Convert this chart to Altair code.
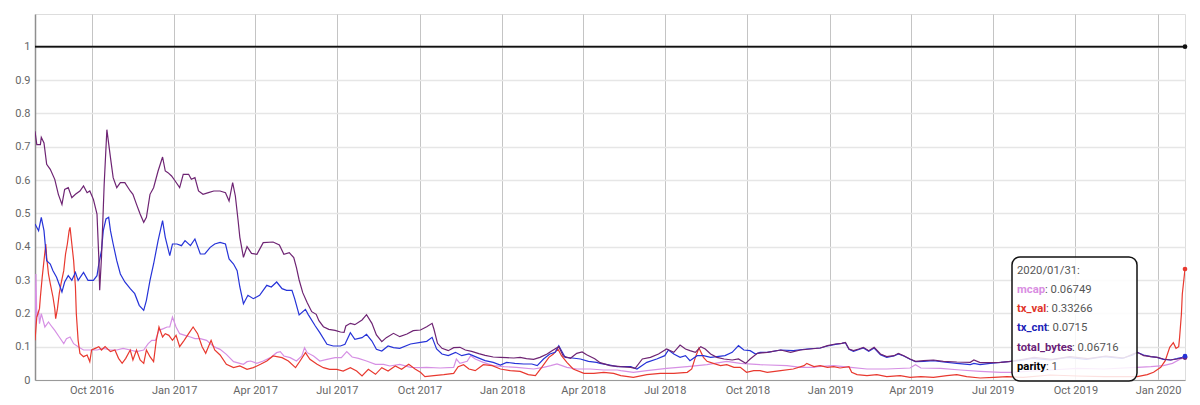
import altair as alt
import pandas as pd

START = "2016-07-30"  # first day of the data

# (days since START, value)
total_bytes_pts = [
    (0, 0.746), (2, 0.706), (6, 0.706), (7, 0.728), (10, 0.711), (13, 0.647), (17, 0.632),
    (22, 0.602), (26, 0.557), (30, 0.527), (33, 0.572), (37, 0.577), (41, 0.547), (45, 0.557),
    (50, 0.567), (54, 0.582), (58, 0.562), (61, 0.567), (65, 0.542), (69, 0.498), (71, 0.368),
    (72, 0.269), (74, 0.368), (77, 0.587), (80, 0.751), (84, 0.667), (87, 0.607), (91, 0.577),
    (95, 0.592), (100, 0.592), (106, 0.567), (109, 0.557), (113, 0.527), (117, 0.498),
    (121, 0.473), (124, 0.488), (128, 0.557), (132, 0.577), (137, 0.627), (142, 0.669),
    (145, 0.627), (148, 0.622), (152, 0.612), (156, 0.597), (161, 0.577), (165, 0.617),
    (171, 0.617), (174, 0.602), (178, 0.607), (182, 0.567), (187, 0.557), (193, 0.562),
    (199, 0.567), (206, 0.567), (212, 0.562), (216, 0.537), (220, 0.592), (223, 0.552),
    (226, 0.48), (228, 0.428), (232, 0.368), (236, 0.40), (241, 0.38), (247, 0.377),
    (254, 0.412), (265, 0.414), (272, 0.405), (277, 0.377), (283, 0.382), (288, 0.367),
    (291, 0.337), (294, 0.30), (298, 0.262), (303, 0.232), (308, 0.205), (313, 0.197),
    (316, 0.178), (321, 0.160), (327, 0.152), (334, 0.149), (340, 0.144), (344, 0.143),
    (346, 0.162), (351, 0.170), (356, 0.166), (364, 0.180), (369, 0.196), (375, 0.170),
    (380, 0.135), (386, 0.115), (391, 0.127), (399, 0.140), (406, 0.130), (414, 0.138),
    (421, 0.148), (429, 0.150), (436, 0.160), (442, 0.170), (444, 0.153), (448, 0.110),
    (453, 0.095), (460, 0.088), (466, 0.097), (473, 0.098), (479, 0.090), (486, 0.086),
    (494, 0.079), (501, 0.074), (510, 0.069), (518, 0.068), (525, 0.067), (533, 0.066),
    (540, 0.068), (547, 0.064), (555, 0.062), (562, 0.068), (570, 0.078), (575, 0.087),
    (583, 0.100), (588, 0.072), (596, 0.065), (603, 0.080), (609, 0.084), (614, 0.076),
    (623, 0.064), (629, 0.052), (640, 0.043), (652, 0.040), (663, 0.038), (668, 0.035),
    (676, 0.063), (685, 0.068), (694, 0.078), (703, 0.093), (711, 0.083), (718, 0.105),
    (724, 0.093), (729, 0.088), (735, 0.083), (741, 0.100), (746, 0.093), (752, 0.078),
    (759, 0.068), (767, 0.063), (776, 0.060), (783, 0.063), (791, 0.050), (796, 0.063),
    (804, 0.080), (815, 0.083), (830, 0.090), (841, 0.083), (852, 0.090), (863, 0.093),
    (874, 0.096), (882, 0.103), (891, 0.108), (898, 0.110), (902, 0.113), (906, 0.093),
    (911, 0.088), (917, 0.093), (922, 0.098), (928, 0.088), (934, 0.098), (941, 0.078),
    (948, 0.070), (956, 0.073), (961, 0.080), (967, 0.073), (974, 0.063), (980, 0.056),
    (989, 0.058), (1000, 0.060), (1011, 0.056), (1026, 0.054), (1041, 0.053), (1045, 0.060),
    (1052, 0.052), (1063, 0.052), (1075, 0.053), (1086, 0.056), (1095, 0.060), (1112, 0.068),
    (1132, 0.062), (1152, 0.070), (1172, 0.064), (1192, 0.072), (1212, 0.066), (1222, 0.078),
    (1227, 0.083), (1234, 0.073), (1242, 0.070), (1249, 0.068), (1256, 0.063), (1264, 0.060),
    (1271, 0.063), (1277, 0.066), (1280, 0.06716),
]

tx_cnt_pts = [
    (0, 0.468), (4, 0.448), (7, 0.488), (10, 0.448), (13, 0.358), (17, 0.348), (20, 0.328),
    (24, 0.308), (28, 0.279), (30, 0.264), (33, 0.294), (37, 0.313), (41, 0.299), (45, 0.323),
    (48, 0.299), (54, 0.323), (59, 0.299), (65, 0.299), (69, 0.313), (71, 0.348), (74, 0.388),
    (76, 0.448), (79, 0.483), (82, 0.488), (84, 0.448), (87, 0.408), (91, 0.358), (95, 0.318),
    (100, 0.294), (106, 0.274), (111, 0.259), (116, 0.224), (121, 0.209), (124, 0.239),
    (128, 0.299), (132, 0.348), (137, 0.418), (142, 0.478), (145, 0.428), (150, 0.373),
    (153, 0.408), (158, 0.408), (163, 0.403), (167, 0.418), (173, 0.403), (178, 0.423),
    (184, 0.378), (189, 0.378), (195, 0.398), (200, 0.408), (206, 0.413), (212, 0.408),
    (216, 0.363), (221, 0.348), (225, 0.328), (228, 0.279), (232, 0.229), (237, 0.254),
    (243, 0.244), (250, 0.254), (258, 0.284), (263, 0.279), (269, 0.294), (275, 0.274),
    (280, 0.269), (286, 0.269), (289, 0.244), (294, 0.195), (301, 0.212), (304, 0.197),
    (312, 0.162), (317, 0.142), (325, 0.107), (332, 0.102), (340, 0.102), (345, 0.107),
    (351, 0.142), (356, 0.122), (364, 0.127), (369, 0.137), (375, 0.117), (380, 0.092),
    (386, 0.087), (393, 0.102), (399, 0.097), (406, 0.095), (418, 0.108), (429, 0.113),
    (436, 0.116), (442, 0.128), (447, 0.093), (453, 0.078), (460, 0.073), (468, 0.083),
    (475, 0.073), (483, 0.078), (492, 0.068), (501, 0.058), (510, 0.053), (518, 0.045),
    (525, 0.053), (534, 0.050), (544, 0.048), (553, 0.048), (559, 0.043), (566, 0.063),
    (573, 0.078), (579, 0.083), (583, 0.103), (586, 0.088), (590, 0.068), (598, 0.066),
    (607, 0.063), (616, 0.056), (625, 0.053), (629, 0.050), (637, 0.046), (648, 0.040),
    (663, 0.040), (670, 0.033), (681, 0.053), (692, 0.063), (701, 0.073), (705, 0.090),
    (711, 0.078), (718, 0.068), (724, 0.073), (729, 0.058), (737, 0.073), (744, 0.073),
    (752, 0.068), (759, 0.070), (768, 0.073), (776, 0.083), (783, 0.103), (789, 0.090),
    (796, 0.088), (802, 0.078), (807, 0.083), (815, 0.083), (830, 0.090), (844, 0.088),
    (859, 0.093), (874, 0.096), (882, 0.102), (891, 0.107), (898, 0.110), (902, 0.112),
    (906, 0.092), (911, 0.086), (917, 0.092), (922, 0.096), (928, 0.086), (934, 0.096),
    (941, 0.076), (948, 0.068), (956, 0.072), (961, 0.078), (967, 0.072), (974, 0.062),
    (980, 0.055), (989, 0.056), (1000, 0.058), (1011, 0.054), (1026, 0.050), (1041, 0.046),
    (1045, 0.050), (1052, 0.046), (1063, 0.050), (1075, 0.053), (1086, 0.056), (1095, 0.058),
    (1110, 0.065), (1130, 0.060), (1150, 0.068), (1170, 0.062), (1190, 0.070), (1210, 0.065),
    (1222, 0.075), (1227, 0.083), (1234, 0.075), (1242, 0.070), (1249, 0.068), (1256, 0.062),
    (1264, 0.060), (1271, 0.064), (1277, 0.068), (1280, 0.0715),
]

tx_val_pts = [
    (0, 0.119), (2, 0.189), (5, 0.214), (6, 0.249), (8, 0.308), (10, 0.358), (12, 0.408),
    (13, 0.368), (15, 0.318), (17, 0.289), (20, 0.249), (22, 0.214), (23, 0.184), (25, 0.214),
    (27, 0.259), (29, 0.289), (32, 0.328), (34, 0.378), (36, 0.408), (38, 0.448), (39, 0.458),
    (41, 0.408), (43, 0.358), (45, 0.279), (46, 0.199), (48, 0.119), (50, 0.080), (54, 0.070),
    (58, 0.075), (61, 0.055), (63, 0.090), (67, 0.095), (71, 0.100), (74, 0.090), (78, 0.100),
    (84, 0.085), (89, 0.090), (93, 0.065), (97, 0.050), (101, 0.065), (106, 0.090), (109, 0.060),
    (113, 0.090), (117, 0.060), (121, 0.050), (124, 0.090), (128, 0.070), (132, 0.055),
    (135, 0.119), (138, 0.159), (142, 0.129), (145, 0.139), (149, 0.134), (153, 0.119),
    (157, 0.134), (161, 0.100), (166, 0.119), (171, 0.139), (176, 0.159), (181, 0.139),
    (186, 0.100), (190, 0.080), (196, 0.119), (200, 0.090), (206, 0.075), (213, 0.047),
    (221, 0.037), (228, 0.042), (236, 0.032), (243, 0.037), (251, 0.047), (258, 0.057),
    (265, 0.072), (275, 0.067), (282, 0.057), (290, 0.037), (295, 0.057), (301, 0.082),
    (306, 0.062), (314, 0.047), (321, 0.037), (328, 0.032), (336, 0.032), (343, 0.027),
    (351, 0.037), (358, 0.027), (364, 0.012), (371, 0.032), (379, 0.017), (386, 0.037),
    (393, 0.027), (401, 0.042), (408, 0.032), (416, 0.047), (423, 0.033), (429, 0.023),
    (434, 0.010), (444, 0.013), (455, 0.016), (466, 0.020), (471, 0.040), (477, 0.046),
    (483, 0.033), (490, 0.028), (499, 0.046), (509, 0.043), (518, 0.033), (529, 0.028),
    (540, 0.026), (549, 0.016), (557, 0.013), (564, 0.038), (572, 0.068), (577, 0.078),
    (582, 0.093), (586, 0.073), (592, 0.053), (599, 0.033), (611, 0.020), (622, 0.020),
    (633, 0.023), (644, 0.020), (652, 0.013), (666, 0.008), (681, 0.016), (696, 0.020),
    (711, 0.020), (726, 0.023), (731, 0.033), (735, 0.068), (739, 0.096), (744, 0.068),
    (748, 0.056), (755, 0.050), (763, 0.043), (770, 0.046), (778, 0.038), (785, 0.038),
    (792, 0.023), (800, 0.028), (807, 0.028), (815, 0.023), (830, 0.028), (844, 0.033),
    (856, 0.043), (859, 0.050), (867, 0.040), (874, 0.043), (882, 0.038), (889, 0.040),
    (896, 0.036), (906, 0.040), (909, 0.023), (915, 0.016), (926, 0.013), (937, 0.016),
    (948, 0.010), (963, 0.013), (974, 0.008), (986, 0.010), (1000, 0.008), (1015, 0.013),
    (1026, 0.016), (1037, 0.010), (1052, 0.006), (1067, 0.008), (1082, 0.010), (1100, 0.008),
    (1130, 0.015), (1160, 0.012), (1190, 0.010), (1220, 0.010), (1227, 0.010), (1238, 0.016),
    (1245, 0.023), (1253, 0.038), (1258, 0.058), (1263, 0.098), (1267, 0.112), (1270, 0.095),
    (1273, 0.100), (1274, 0.128), (1276, 0.198), (1277, 0.258), (1280, 0.33266),
]

mcap_pts = [
    (0, 0.149), (1, 0.318), (2, 0.189), (4, 0.209), (5, 0.169), (7, 0.199), (11, 0.159),
    (15, 0.174), (19, 0.159), (22, 0.149), (27, 0.129), (32, 0.109), (35, 0.124), (39, 0.129),
    (43, 0.109), (48, 0.100), (54, 0.090), (61, 0.090), (69, 0.090), (76, 0.095), (84, 0.090),
    (91, 0.090), (98, 0.095), (106, 0.090), (113, 0.085), (121, 0.090), (126, 0.109),
    (130, 0.119), (134, 0.119), (138, 0.149), (143, 0.154), (147, 0.159), (150, 0.159),
    (153, 0.189), (157, 0.159), (161, 0.139), (167, 0.134), (173, 0.129), (178, 0.124),
    (184, 0.124), (191, 0.119), (199, 0.100), (206, 0.092), (213, 0.077), (221, 0.055),
    (228, 0.050), (232, 0.047), (236, 0.055), (240, 0.057), (247, 0.050), (254, 0.057),
    (262, 0.067), (269, 0.082), (273, 0.085), (277, 0.072), (284, 0.067), (291, 0.057),
    (297, 0.072), (300, 0.097), (303, 0.082), (310, 0.072), (317, 0.057), (325, 0.062),
    (334, 0.067), (341, 0.067), (347, 0.085), (353, 0.069), (360, 0.065), (369, 0.057),
    (379, 0.047), (388, 0.047), (395, 0.042), (406, 0.047), (418, 0.038), (429, 0.037),
    (436, 0.038), (451, 0.036), (466, 0.038), (469, 0.063), (473, 0.050), (481, 0.056),
    (485, 0.073), (490, 0.063), (499, 0.053), (510, 0.043), (522, 0.040), (536, 0.038),
    (555, 0.033), (566, 0.038), (574, 0.043), (581, 0.048), (592, 0.038), (603, 0.033),
    (618, 0.033), (633, 0.030), (648, 0.030), (652, 0.028), (666, 0.023), (681, 0.028),
    (703, 0.035), (726, 0.040), (748, 0.046), (770, 0.056), (785, 0.050), (807, 0.046),
    (837, 0.043), (852, 0.038), (867, 0.038), (871, 0.040), (889, 0.043), (908, 0.038),
    (926, 0.033), (948, 0.033), (974, 0.036), (980, 0.046), (986, 0.036), (1008, 0.035),
    (1030, 0.030), (1052, 0.026), (1075, 0.023), (1086, 0.023), (1100, 0.025), (1130, 0.030),
    (1160, 0.035), (1190, 0.033), (1220, 0.037), (1227, 0.038), (1242, 0.040), (1256, 0.043),
    (1266, 0.050), (1275, 0.063), (1280, 0.06749),
]

parity_pts = [(0, 1.0), (1280, 1.0)]

series_names = ["parity", "mcap", "tx_val", "tx_cnt", "total_bytes"]
series_colors = ["#111111", "#d690e4", "#e8392f", "#2633d8", "#6e2473"]
label_colors = ["#000000", "#d98ee2", "#e0342a", "#1c22b8", "#6a2277"]

quarter_ticks = [
    (2016, 10), (2017, 1), (2017, 4), (2017, 7), (2017, 10), (2018, 1), (2018, 4),
    (2018, 7), (2018, 10), (2019, 1), (2019, 4), (2019, 7), (2019, 10), (2020, 1),
]
y_ticks = [0.0, 0.1, 0.2, 0.3, 0.4, 0.5, 0.6, 0.7, 0.8, 0.9, 1.0]
tooltip_date = "2020/01/31:"

point_sets = {
    "parity": parity_pts,
    "mcap": mcap_pts,
    "tx_val": tx_val_pts,
    "tx_cnt": tx_cnt_pts,
    "total_bytes": total_bytes_pts,
}

frames = []
for name in series_names:
    pts = point_sets[name]
    days = [p[0] for p in pts]
    vals = [p[1] for p in pts]
    frames.append(pd.DataFrame({
        "date": pd.Timestamp(START) + pd.to_timedelta(days, unit="D"),
        "value": vals,
        "series": name,
    }))
df = pd.concat(frames, ignore_index=True)
last = df.sort_values("date").groupby("series", as_index=False).last()

x_scale = alt.Scale(
    domain=[alt.DateTime(year=2016, month=7, date=30), alt.DateTime(year=2020, month=1, date=31)],
    nice=False,
)
y_scale = alt.Scale(domain=[0, 1.098], nice=False, zero=False)
color_scale = alt.Scale(domain=series_names, range=series_colors)

x_axis = alt.Axis(
    values=[alt.DateTime(year=y, month=m, date=1) for y, m in quarter_ticks],
    format="%b %Y", labelFont="Roboto", labelFontSize=11, labelColor="#666666",
    labelPadding=4, ticks=False, grid=True, gridColor="#c4c4c4", gridWidth=1,
    domainColor="#9a9a9a", domainWidth=1.2, title=None, labelFlush=False,
    labelOverlap=False,
)
y_axis = alt.Axis(
    values=y_ticks, format="~g", labelFont="Roboto", labelFontSize=11,
    labelColor="#666666", labelPadding=5, ticks=False, grid=True,
    gridColor="#e6e6e6", gridWidth=1.5, domainColor="#8f8f8f", domainWidth=1.5, title=None,
    labelOverlap=False, labelFlush=False, tickCount=11,
)

X = alt.X("date:T", scale=x_scale, axis=x_axis)
Y = alt.Y("value:Q", scale=y_scale, axis=y_axis)

lines = alt.Chart(df).mark_line(strokeWidth=1.2, clip=True).encode(
    x=X, y=Y,
    color=alt.Color("series:N", scale=color_scale, legend=None),
    detail="series:N",
    order="date:T",
)

parity_line = alt.Chart(df[df.series == "parity"]).mark_line(strokeWidth=1.6, color="#111111").encode(
    x=X, y=Y,
)

dots = alt.Chart(last).mark_circle(size=22, opacity=1).encode(
    x=X, y=Y,
    color=alt.Color("series:N", scale=color_scale, legend=None),
)

# tooltip box (annotation, plot-relative pixels)
one = pd.DataFrame({"k": [0]})
box = alt.Chart(one).mark_rect(
    cornerRadius=8, fill="white", fillOpacity=0.85, stroke="#111111", strokeWidth=1.5
).encode(x=alt.value(977), x2=alt.value(1102), y=alt.value(243), y2=alt.value(367))

tip_font = 11.3
tip_layers = [
    alt.Chart(one).mark_text(
        text=tooltip_date, font="Roboto", fontSize=tip_font, color="#555555", align="left", baseline="middle"
    ).encode(x=alt.value(982), y=alt.value(257))
]
row_names = ["mcap", "tx_val", "tx_cnt", "total_bytes", "parity"]
row_value_x = [1010, 1011, 1012, 1037, 1011]
for i, name in enumerate(row_names):
    yv = 276 + i * 19.2
    col = label_colors[series_names.index(name)]
    val = last.loc[last.series == name, "value"].iloc[0]
    val_txt = ("%g" % val)
    tip_layers.append(
        alt.Chart(one).mark_text(
            text=name, font="Roboto", fontSize=tip_font, fontWeight="bold", color=col,
            align="left", baseline="middle"
        ).encode(x=alt.value(982), y=alt.value(yv))
    )
    tip_layers.append(
        alt.Chart(one).mark_text(
            text=": " + val_txt, font="Roboto", fontSize=tip_font, color="#555555",
            align="left", baseline="middle"
        ).encode(x=alt.value(row_value_x[i]), y=alt.value(yv))
    )

chart = alt.layer(lines, parity_line, dots, box, *tip_layers).properties(
    width=1150, height=366,
    autosize=alt.AutoSizeParams(type="none"),
    padding={"left": 27, "top": 6, "right": 7, "bottom": 22},
).configure_view(stroke=None).configure(background="white")

chart.save("out.html", embed_options={"renderer": "svg", "actions": False})
